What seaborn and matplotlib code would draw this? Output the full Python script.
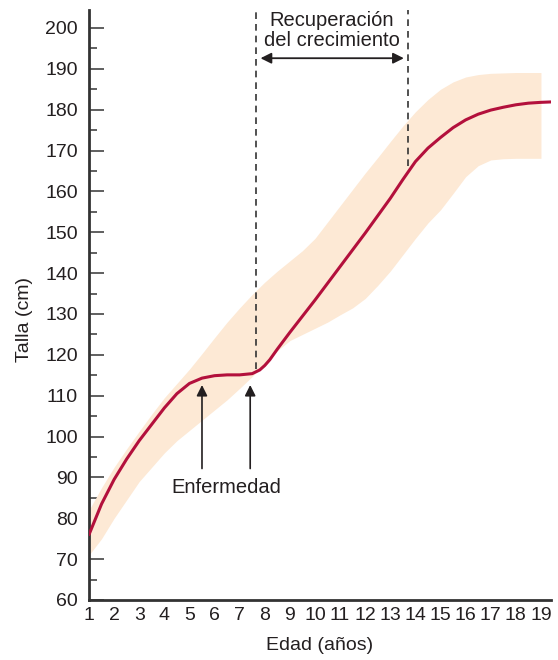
import pandas as pd
import seaborn as sns
import matplotlib.pyplot as plt
from matplotlib.ticker import MultipleLocator

# curva del paciente (edad en años, talla en cm)
edad = [1.0, 1.5, 2.0, 2.5, 3.0, 3.5, 4.0, 4.5, 5.0, 5.5, 6.0, 6.5, 7.0, 7.5, 7.8,
        8.0, 8.2, 8.5, 9.0, 10.0, 11.0, 12.0, 13.0, 13.5, 14.0, 14.5, 15.0, 15.5,
        16.0, 16.5, 17.0, 17.5, 18.0, 18.5, 19.0, 19.4]
talla = [76, 83.5, 89.5, 94.5, 99, 103, 107, 110.5, 113, 114.3, 114.9, 115.1, 115.1,
         115.4, 116.3, 117.4, 118.8, 121.4, 125.5, 133.4, 141.6, 149.8, 158.3, 162.9,
         167.3, 170.6, 173.2, 175.6, 177.5, 178.9, 179.9, 180.6, 181.2, 181.6, 181.8, 181.9]

# banda de referencia
edad_banda = [1.0, 1.5, 2.0, 2.5, 3.0, 3.5, 4.0, 4.5, 5.0, 5.5, 6.0, 6.5, 7.0, 7.5,
              8.0, 8.5, 9.0, 9.5, 10.0, 10.5, 11.0, 11.5, 12.0, 12.5, 13.0, 13.5,
              14.0, 14.5, 15.0, 15.5, 16.0, 16.5, 17.0, 17.5, 18.0, 19.0]
banda_sup = [82, 87.5, 92.5, 97, 101.3, 105.5, 109.5, 113, 116.5, 120.3, 124.2, 128,
             131.5, 134.8, 137.8, 140.5, 143, 145.5, 148.5, 152.5, 156.5, 160.5, 164.5,
             168.3, 172.2, 176, 179.5, 182.5, 185, 186.8, 188, 188.6, 188.9, 189, 189.1, 189.1]
banda_inf = [71, 75, 80, 84.5, 89, 92.5, 96, 99, 101.5, 104, 106.5, 109, 111.8, 114.7,
             117.8, 121, 123.5, 125, 126.5, 128, 129.8, 131.5, 133.8, 137, 140.5, 144.5,
             148.5, 152.3, 155.5, 159.5, 163.6, 166.3, 167.7, 168, 168.1, 168.1]

x_ticks = list(range(1, 20))
y_ticks = list(range(60, 201, 10))

tinta = "#231f20"
rojo = "#b3103c"
crema = "#fde9d5"

sns.set_style("ticks")
plt.rcParams['font.family'] = ['Liberation Sans', 'DejaVu Sans']
plt.rcParams['text.color'] = tinta

fig = plt.figure(figsize=(5.58, 6.6), dpi=100)
ax = fig.add_axes([89 / 558, 60 / 660, 462 / 558, 590 / 660])

ax.fill_between(edad_banda, banda_inf, banda_sup, color=crema, linewidth=0, zorder=1)
df = pd.DataFrame({"edad": edad, "talla": talla})
sns.lineplot(data=df, x="edad", y="talla", color=rojo, linewidth=2.2, ax=ax, zorder=3)

# lineas discontinuas de recuperacion
ax.plot([7.67, 7.67], [116.5, 204.4], color="#333333", linestyle=(0, (4, 3)), lw=1.2, zorder=2)
ax.plot([13.7, 13.7], [166.3, 204.4], color="#333333", linestyle=(0, (4, 3)), lw=1.2, zorder=2)
ax.annotate("", xy=(7.72, 192.6), xytext=(13.65, 192.6),
            arrowprops=dict(arrowstyle="<|-|>", color=tinta, lw=1.3, mutation_scale=16))
ax.text(10.66, 199.3, "Recuperación\ndel crecimiento", ha="center", va="center",
        fontsize=14.5, linespacing=1.05)

# flechas de enfermedad
for xe in [5.5, 7.42]:
    ax.annotate("", xy=(xe, 113.3), xytext=(xe, 91.5),
                arrowprops=dict(arrowstyle="-|>", color=tinta, lw=1.2, mutation_scale=16))
ax.text(6.45, 87.5, "Enfermedad", ha="center", va="center", fontsize=14.5)

ax.set_xlim(1, 19.4)
ax.set_ylim(60, 204.4)
ax.set_xticks(x_ticks)
ax.set_xticklabels([str(v) for v in x_ticks])
ax.set_yticks(y_ticks)
ax.yaxis.set_minor_locator(MultipleLocator(5))
ax.tick_params(axis="x", length=0, pad=5, labelsize=14, labelcolor=tinta)
ax.tick_params(axis="y", which="major", direction="in", length=10.8, width=1.2,
               color="#444444", pad=8, labelsize=14, labelcolor=tinta)
ax.tick_params(axis="y", which="minor", direction="in", length=5.8, width=1.2, color="#444444")

for s in ["top", "right"]:
    ax.spines[s].set_visible(False)
for s in ["left", "bottom"]:
    ax.spines[s].set_linewidth(2.0)
    ax.spines[s].set_color("#333333")

ax.set_xlabel("Edad (años)", fontsize=14, color=tinta)
ax.set_ylabel("Talla (cm)", fontsize=14, color=tinta)
ax.xaxis.set_label_coords(0.5, -0.063)
ax.yaxis.set_label_coords(-0.121, 0.476)

plt.savefig("out.png", dpi=100)
